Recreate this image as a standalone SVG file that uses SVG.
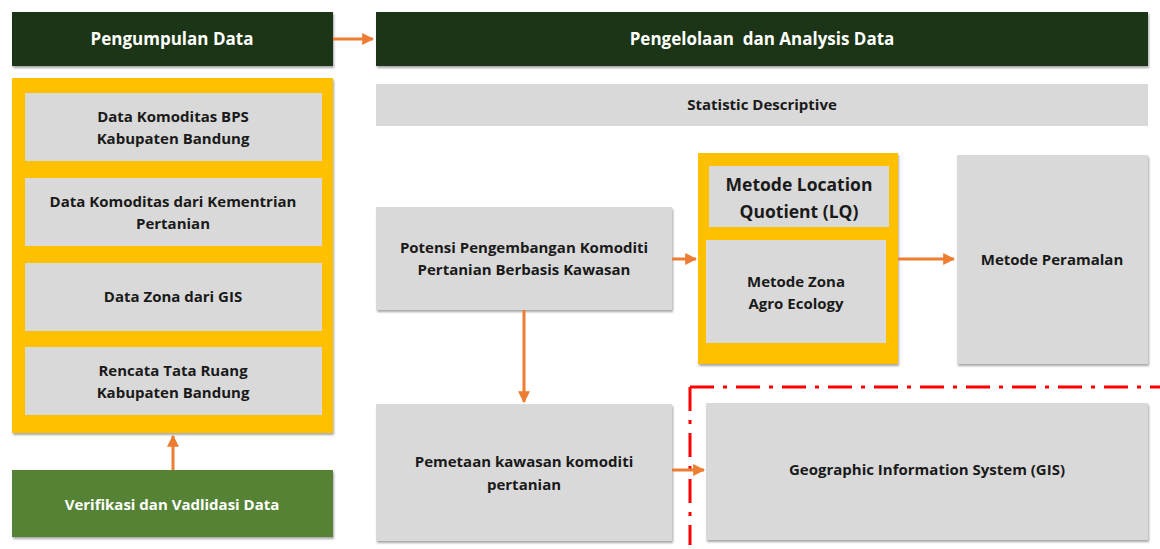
<svg xmlns="http://www.w3.org/2000/svg" width="1160" height="549" viewBox="0 0 1160 549">
<defs>
<filter id="sh" x="-5%" y="-5%" width="110%" height="115%">
<feDropShadow dx="1" dy="2" stdDeviation="1.2" flood-color="#000" flood-opacity="0.35"/>
</filter>
<marker id="ah" viewBox="0 0 10 10" refX="9" refY="5" markerWidth="4" markerHeight="4" orient="auto-start-reverse">
<path d="M0,0 L10,5 L0,10 z" fill="#ed7d31"/>
</marker>
<style>
.hdr{fill:#1f3513}
.yel{fill:#ffc000}
.gry{fill:#d9d9d9}
.grn{fill:#548235}
.tw{font-family:"Open Sans","Liberation Sans",sans-serif;font-weight:bold;fill:#fff;font-size:17px;text-anchor:middle}
.tb{font-family:"Open Sans","Liberation Sans",sans-serif;font-weight:bold;fill:#1a1a1a;font-size:15px;text-anchor:middle}
.tl{font-family:"Open Sans","Liberation Sans",sans-serif;font-weight:bold;fill:#1a1a1a;font-size:17.5px;text-anchor:middle}
.con{stroke:#ed7d31;stroke-width:3;fill:none}
</style>
</defs>
<rect width="1160" height="549" fill="#fff"/>

<g id="pengumpulan">
<rect class="hdr" x="12" y="12" width="321" height="54" filter="url(#sh)"/>
<text class="tw" x="172" y="45">Pengumpulan Data</text>
</g>
<g id="pengelolaan">
<rect class="hdr" x="376" y="12" width="772" height="54" filter="url(#sh)"/>
<text class="tw" x="762" y="45">Pengelolaan&#160; dan Analysis Data</text>
</g>
<g id="data-group">
<rect class="yel" x="12" y="78" width="321" height="355" filter="url(#sh)"/>
</g>
<g id="bps">
<rect class="gry" x="25" y="93" width="297" height="68"/>
<text class="tb" x="173" y="122">Data Komoditas BPS</text>
<text class="tb" x="173" y="144">Kabupaten Bandung</text>
</g>
<g id="kementrian">
<rect class="gry" x="25" y="178" width="297" height="68"/>
<text class="tb" x="173" y="207">Data Komoditas dari Kementrian</text>
<text class="tb" x="173" y="229">Pertanian</text>
</g>
<g id="zona-gis">
<rect class="gry" x="25" y="263" width="297" height="68"/>
<text class="tb" x="173" y="302">Data Zona dari GIS</text>
</g>
<g id="rencana">
<rect class="gry" x="25" y="347" width="297" height="68"/>
<text class="tb" x="173" y="376">Rencata Tata Ruang</text>
<text class="tb" x="173" y="398">Kabupaten Bandung</text>
</g>
<g id="verifikasi">
<rect class="grn" x="12" y="470" width="321" height="67" filter="url(#sh)"/>
<text class="tw" x="172" y="510" style="font-size:15px">Verifikasi dan Vadlidasi Data</text>
</g>
<g id="statistic">
<rect class="gry" x="376" y="84" width="772" height="42"/>
<text class="tb" x="762" y="110">Statistic Descriptive</text>
</g>
<g id="potensi">
<rect class="gry" x="376" y="207" width="296" height="103" filter="url(#sh)"/>
<text class="tb" x="524" y="253">Potensi Pengembangan Komoditi</text>
<text class="tb" x="524" y="275">Pertanian Berbasis Kawasan</text>
</g>
<g id="metode-group">
<rect class="yel" x="698" y="153" width="200" height="211" filter="url(#sh)"/>
</g>
<g id="lq">
<rect class="gry" x="709" y="166" width="180" height="61"/>
<text class="tl" x="799" y="191">Metode Location</text>
<text class="tl" x="799" y="218">Quotient (LQ)</text>
</g>
<g id="zona">
<rect class="gry" x="706" y="240" width="180" height="103"/>
<text class="tb" x="796" y="287">Metode Zona</text>
<text class="tb" x="796" y="309">Agro Ecology</text>
</g>
<g id="peramalan">
<rect class="gry" x="957" y="155" width="191" height="209" filter="url(#sh)"/>
<text class="tb" x="1052" y="265">Metode Peramalan</text>
</g>
<g id="pemetaan">
<rect class="gry" x="376" y="404" width="296" height="137" filter="url(#sh)"/>
<text class="tb" x="524" y="467">Pemetaan kawasan komoditi</text>
<text class="tb" x="524" y="490">pertanian</text>
</g>
<g id="gis">
<rect class="gry" x="706" y="403" width="442" height="137" filter="url(#sh)"/>
<text class="tb" x="927" y="475">Geographic Information System (GIS)</text>
</g>
<g id="gis-boundary">
<path d="M690,387 L1160,387 M690,387 L690,545" stroke="#ff0000" stroke-width="3" fill="none" stroke-dasharray="24 9 4 9"/>
</g>

<g id="connectors">
<line class="con" x1="333" y1="39" x2="373" y2="39" marker-end="url(#ah)"/>
<line class="con" x1="173" y1="470" x2="173" y2="436" marker-end="url(#ah)"/>
<line class="con" x1="672" y1="259" x2="696" y2="259" marker-end="url(#ah)"/>
<line class="con" x1="898" y1="259" x2="954" y2="259" marker-end="url(#ah)"/>
<line class="con" x1="524" y1="310" x2="524" y2="402" marker-end="url(#ah)"/>
<line class="con" x1="672" y1="470" x2="704" y2="470" marker-end="url(#ah)"/>
</g>
</svg>
